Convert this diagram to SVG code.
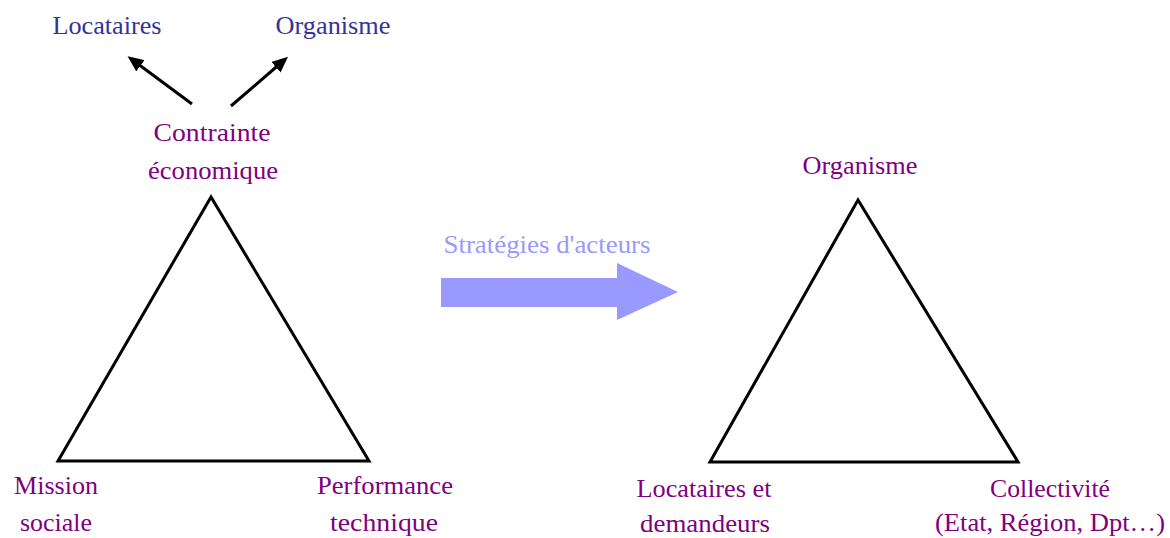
<svg xmlns="http://www.w3.org/2000/svg" width="1170" height="538" viewBox="0 0 1170 538">
<style>
text{font-family:"Liberation Serif","DejaVu Serif",serif;font-size:26px;text-anchor:middle}
.p{fill:#800080}
.b{fill:#33339a}
.s{fill:#9999ff}
.tri{fill:none;stroke:#000;stroke-width:3;stroke-linejoin:miter}
.con{stroke:#000;stroke-width:3;fill:none}
</style>
<defs>
<marker id="ah" markerWidth="16" markerHeight="14" refX="8" refY="7" orient="auto" markerUnits="userSpaceOnUse" viewBox="0 0 16 14">
<path d="M0,0 L16,7 L0,14 Z" fill="#000"/>
</marker>
</defs>
<rect width="1170" height="538" fill="#fff"/>
<g id="connectors">
<line class="con" x1="192" y1="104" x2="134" y2="61" marker-end="url(#ah)"/>
<line class="con" x1="231" y1="106" x2="282" y2="62" marker-end="url(#ah)"/>
</g>
<g id="left-triangle"><polygon class="tri" points="211,197 58,461 369,461"/></g>
<g id="right-triangle"><polygon class="tri" points="858,200 710,462 1018,462"/></g>
<g id="node-locataires"><text class="b" x="107" y="34" textLength="109" lengthAdjust="spacingAndGlyphs">Locataires</text></g>
<g id="node-organisme-top"><text class="b" x="333" y="34" textLength="115" lengthAdjust="spacingAndGlyphs">Organisme</text></g>
<g id="node-contrainte"><text class="p" x="212" y="141" textLength="117" lengthAdjust="spacingAndGlyphs">Contrainte</text><text class="p" x="213" y="179" textLength="130" lengthAdjust="spacingAndGlyphs">économique</text></g>
<g id="node-strategies">
<text class="s" x="547" y="253" textLength="207" lengthAdjust="spacingAndGlyphs">Stratégies d'acteurs</text>
<polygon fill="#9999ff" points="441,278 617,278 617,263 678,292 617,320 617,307 441,307"/>
</g>
<g id="node-mission"><text class="p" x="56" y="494" textLength="84" lengthAdjust="spacingAndGlyphs">Mission</text><text class="p" x="56" y="531" textLength="72" lengthAdjust="spacingAndGlyphs">sociale</text></g>
<g id="node-performance"><text class="p" x="385" y="494" textLength="136" lengthAdjust="spacingAndGlyphs">Performance</text><text class="p" x="384" y="531" textLength="108" lengthAdjust="spacingAndGlyphs">technique</text></g>
<g id="node-organisme-right"><text class="p" x="860" y="174" textLength="115" lengthAdjust="spacingAndGlyphs">Organisme</text></g>
<g id="node-locataires-dem"><text class="p" x="704" y="497" textLength="135" lengthAdjust="spacingAndGlyphs">Locataires et</text><text class="p" x="705" y="532" textLength="130" lengthAdjust="spacingAndGlyphs">demandeurs</text></g>
<g id="node-collectivite"><text class="p" x="1050" y="497" textLength="120" lengthAdjust="spacingAndGlyphs">Collectivité</text><text class="p" x="1050" y="531" textLength="230" lengthAdjust="spacingAndGlyphs">(Etat, Région, Dpt…)</text></g>
</svg>
